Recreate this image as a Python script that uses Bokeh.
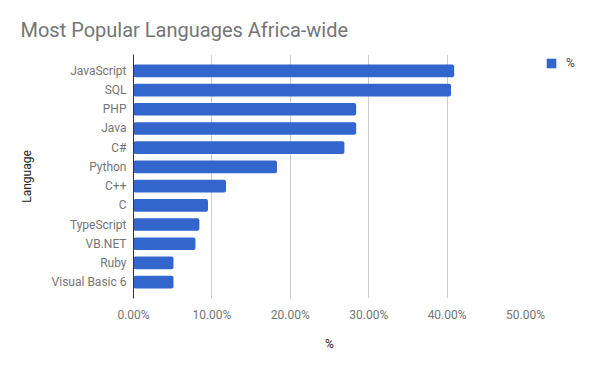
from bokeh.plotting import figure
from bokeh.models import (FactorRange, Range1d, FixedTicker, PrintfTickFormatter,
                          Legend, LegendItem, Title, ColumnDataSource)
from bokeh.embed import file_html
from bokeh.resources import INLINE

languages = ["JavaScript", "SQL", "PHP", "Java", "C#", "Python", "C++", "C",
             "TypeScript", "VB.NET", "Ruby", "Visual Basic 6"]
percent = [40.9, 40.5, 28.4, 28.4, 26.9, 18.3, 11.8, 9.5, 8.4, 7.9, 5.1, 5.1]
x_ticks = [0, 10, 20, 30, 40, 50]

FONT = "Roboto"

source = ColumnDataSource(data=dict(lang=languages, pct=percent))

p = figure(frame_width=392, frame_height=244, output_backend="svg", toolbar_location=None,
           y_range=FactorRange(factors=languages[::-1], range_padding=0.35,
                               range_padding_units="absolute"),
           x_range=Range1d(0, 50),
           min_border_left=133, min_border_right=75,
           min_border_top=54, min_border_bottom=73)
p.outline_line_color = None
p.background_fill_color = "white"
p.border_fill_color = "white"

p.title = Title(text="Most Popular Languages Africa-wide", align="left", offset=-113,
                text_font=FONT, text_font_size="20px", text_color="#757575",
                text_font_style="normal", standoff=26)

r = p.hbar(y="lang", right="pct", left=0, height=0.66, source=source,
           fill_color="#3366cc", line_color=None, border_radius=2)

# x axis
xa = p.xaxis[0]
xa.ticker = FixedTicker(ticks=x_ticks)
xa.formatter = PrintfTickFormatter(format="%.2f%%")
xa.axis_line_color = None
xa.major_tick_line_color = None
xa.minor_tick_line_color = None
xa.major_tick_out = 0
xa.major_tick_in = 0
xa.minor_tick_out = 0
xa.major_label_standoff = 9
xa.major_label_text_font = FONT
xa.major_label_text_font_size = "12px"
xa.major_label_text_color = "#757575"
xa.axis_label = "%"
xa.axis_label_text_font = FONT
xa.axis_label_text_font_size = "12px"
xa.axis_label_text_font_style = "normal"
xa.axis_label_text_color = "#222222"
xa.axis_label_standoff = 12

# y axis
ya = p.yaxis[0]
ya.axis_line_color = "#333333"
ya.major_tick_line_color = None
ya.minor_tick_line_color = None
ya.major_tick_out = 0
ya.major_tick_in = 0
ya.minor_tick_out = 0
ya.major_label_standoff = 7
ya.major_label_text_font = FONT
ya.major_label_text_font_size = "12px"
ya.major_label_text_color = "#757575"
ya.axis_label = "Language"
ya.axis_label_text_font = FONT
ya.axis_label_text_font_size = "12px"
ya.axis_label_text_font_style = "normal"
ya.axis_label_text_color = "#222222"
ya.axis_label_standoff = 15

p.xgrid.ticker = FixedTicker(ticks=x_ticks)
p.xgrid.grid_line_color = "#cccccc"
p.ygrid.grid_line_color = None

legend = Legend(items=[LegendItem(label="%", renderers=[r])],
                location=(20, 228), margin=0, padding=0,
                glyph_width=12, glyph_height=12, label_height=12,
                label_standoff=9, spacing=0,
                label_text_font=FONT, label_text_font_size="12px",
                label_text_color="#444444",
                border_line_color=None, background_fill_alpha=0)
p.add_layout(legend, "right")

open("out.html", "w").write(file_html(p, INLINE))
